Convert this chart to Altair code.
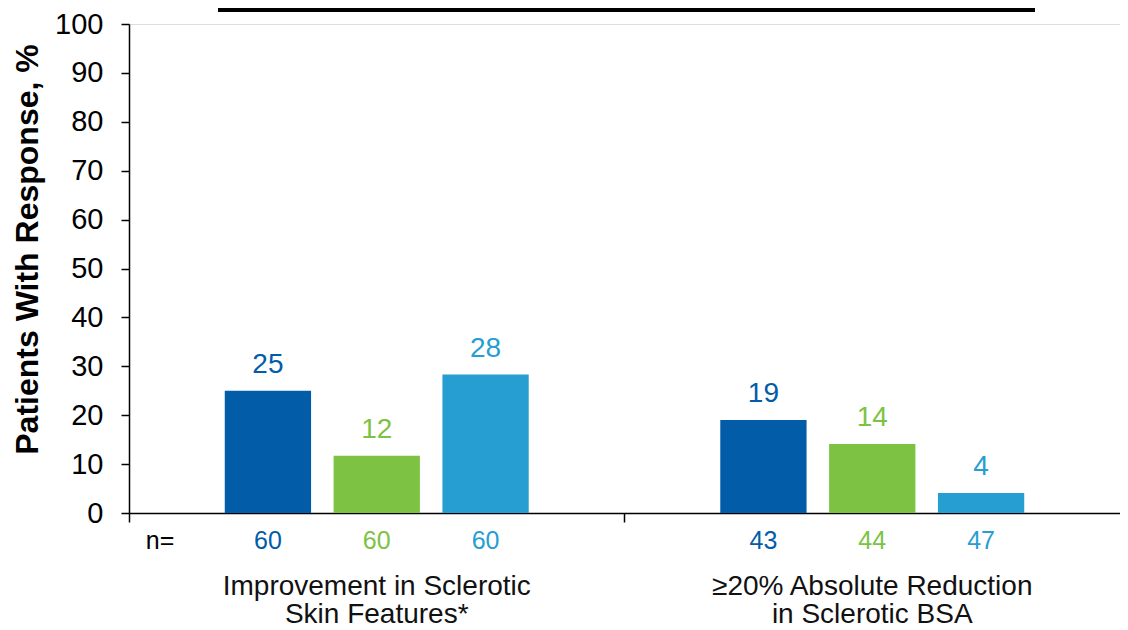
import altair as alt
import pandas as pd

# ---- data ----
groups = ["Improvement in Sclerotic\nSkin Features*", "≥20% Absolute Reduction\nin Sclerotic BSA"]
series = ["Arm A", "Arm B", "Arm C"]
colors = ["#025CA8", "#7DC243", "#279ED1"]

resp_g1 = [25.0, 11.7, 28.3]
resp_g2 = [19.0, 14.1, 4.1]
label_g1 = ["25", "12", "28"]
label_g2 = ["19", "14", "4"]
n_g1 = [60, 60, 60]
n_g2 = [43, 44, 47]
y_ticks = [0, 10, 20, 30, 40, 50, 60, 70, 80, 90, 100]

rows = []
for g, vals, labs, ns in [(groups[0], resp_g1, label_g1, n_g1), (groups[1], resp_g2, label_g2, n_g2)]:
    for s, v, l, n in zip(series, vals, labs, ns):
        rows.append({"group": g, "series": s, "value": v, "label": l, "n": str(n)})
df = pd.DataFrame(rows)
gdf = pd.DataFrame({"group": groups})

FONT = "Liberation Sans"

x_enc = alt.X(
    "group:N", sort=groups,
    scale=alt.Scale(paddingInner=0, paddingOuter=0),
    axis=alt.Axis(title=None, labels=False, ticks=True, bandPosition=0, tickSize=9,
                  domainColor="black", tickColor="black", domainWidth=1.5, tickWidth=1.5),
)
xoff = alt.XOffset("series:N", sort=series, scale=alt.Scale(paddingInner=0.207, paddingOuter=0.88))
color_enc = alt.Color("series:N", sort=series, scale=alt.Scale(domain=series, range=colors), legend=None)

bars = alt.Chart(df).mark_bar().encode(
    x=x_enc,
    xOffset=xoff,
    y=alt.Y("value:Q", scale=alt.Scale(domain=[0, 100]),
            axis=alt.Axis(values=y_ticks, title="Patients With Response, %", titleFontSize=32,
                          titleFontWeight="bold", titleColor="black", titleFont=FONT,
                          titleY=225,
                          labelFontSize=29, labelColor="black", labelFont=FONT,
                          tickSize=8, tickColor="black", domainColor="black",
                          domainWidth=1.5, tickWidth=1.5, grid=False,
                          labelPadding=18, titlePadding=10)),
    color=color_enc,
)

vals_text = alt.Chart(df).mark_text(baseline="alphabetic", dy=-18, fontSize=28, font=FONT).encode(
    x=alt.X("group:N", sort=groups),
    xOffset=xoff,
    y="value:Q",
    text="label:N",
    color=color_enc,
)

n_text = alt.Chart(df).mark_text(baseline="middle", fontSize=25, font=FONT).encode(
    x=alt.X("group:N", sort=groups),
    xOffset=xoff,
    y=alt.value(517),
    text="n:N",
    color=color_enc,
)

n_eq = alt.Chart(gdf.head(1)).mark_text(baseline="middle", fontSize=25, font=FONT, color="black").encode(
    x=alt.value(31), y=alt.value(517), text=alt.value("n=")
)

cat_text = alt.Chart(gdf).mark_text(baseline="top", fontSize=28, font=FONT, color="#111111",
                                    lineBreak="\n", lineHeight=28).encode(
    x=alt.X("group:N", sort=groups),
    y=alt.value(549),
    text="group:N",
)

top_line = alt.Chart(gdf.head(1)).mark_rule(color="black", strokeWidth=4).encode(
    x=alt.value(89), x2=alt.value(906), y=alt.value(-14)
)

chart = alt.layer(bars, vals_text, n_text, n_eq, cat_text, top_line).properties(
    width=991, height=489,
    autosize=alt.AutoSizeParams(type="none"),
    padding={"left": 121, "top": 16, "right": 0, "bottom": 110},
).configure_view(stroke=None).configure(font=FONT)

chart.save("out.html", embed_options={"renderer": "svg", "actions": False})
